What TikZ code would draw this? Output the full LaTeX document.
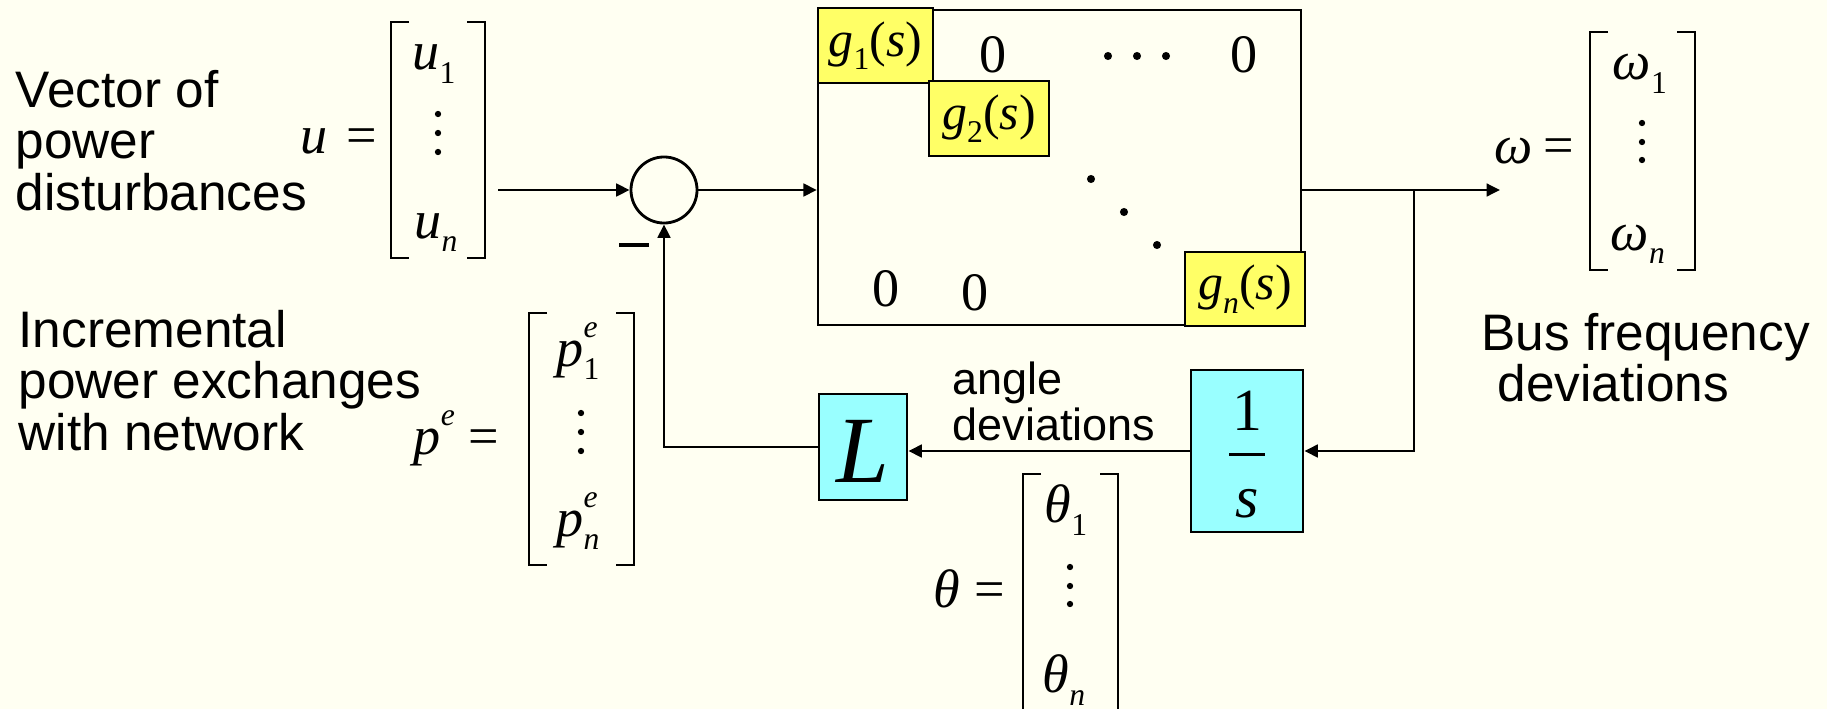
\documentclass[tikz,border=0pt]{standalone}
\usepackage{fontspec}
\setmainfont{Liberation Sans}
\newfontfamily\tms{Liberation Serif}
\usetikzlibrary{arrows.meta}
\definecolor{bg}{RGB}{255,255,242}
\definecolor{ybox}{RGB}{255,255,102}
\definecolor{cbox}{RGB}{153,255,255}
\newcommand\mi[1]{{\tms\itshape #1}}
\newcommand\mr[1]{{\tms #1}}
\newcommand\sbs[1]{\raisebox{-3.8pt}{\fontsize{9}{9}\selectfont #1}}
\newcommand\sps[1]{\raisebox{8pt}{\fontsize{9}{9}\selectfont #1}}
\newcommand\brk[4]{%
  \draw[brk] (#1+18,#3) -- (#1,#3) -- (#1,#4) -- (#1+18,#4);
  \draw[brk] (#2-18,#3) -- (#2,#3) -- (#2,#4) -- (#2-18,#4);}
\newcommand\vdts[4]{%
  \fill (#1,#2) circle[radius=0.9pt];
  \fill (#1,#3) circle[radius=0.9pt];
  \fill (#1,#4) circle[radius=0.9pt];}
\tikzset{
  sans/.style={font=\fontsize{14.6}{17}\selectfont, inner sep=0, anchor=base west},
  smalltxt/.style={font=\fontsize{12.8}{15}\selectfont, inner sep=0, anchor=base west},
  mth/.style={font=\fontsize{15.4}{18}\selectfont, inner sep=0, anchor=base},
  mthw/.style={mth, anchor=base west},
  gbox/.style={draw, fill=ybox, line width=0.8pt, inner sep=0,
    minimum width=1.18cm, minimum height=0.75cm, font=\fontsize{14.2}{17}\selectfont},
  cbx/.style={draw, fill=cbox, line width=0.8pt, inner sep=0},
  conn/.style={line width=0.7pt},
  arr/.style={conn, -{Triangle[length=3.8pt,width=3.6pt]}},
  brk/.style={line width=0.7pt},
}
\begin{document}
\begin{tikzpicture}[x=0.01cm, y=-0.01cm]
\fill[bg] (0,0) rectangle (1827,709);
\useasboundingbox (0,0) rectangle (1827,709);

% left texts
\node[sans] (t1) at (15,107) {Vector of};
\node[sans] (t2) at (15,158) {power};
\node[sans] (t3) at (15,210) {disturbances};
\node[sans] (t4) at (18,347) {Incremental};
\node[sans] (t5) at (18,398) {power exchanges};
\node[sans] (t6) at (18,450) {with network};
\node[sans] (t7) at (1481,350) {Bus frequency};
\node[sans] (t8) at (1497,401) {deviations};
\node[smalltxt] (t9) at (952,394) {angle};
\node[smalltxt] (t10) at (952,440) {deviations};

% u vector
\node[mthw] (ueq) at (300,153) {\mi{u}\kern5.2pt\mr{=}};
\brk{391}{485}{22}{258}
\node[mth] (u1) at (434,70) {\mi{u}\sbs{\mr{1}}};
\vdts{438}{114}{133}{152}
\node[mth] (un) at (436,238) {\mi{u}\sbs{\mi{n}}};
\coordinate (uout) at (498,190);

% p^e vector
\node[mthw] (peq) at (413,454) {\mi{p}\sps{\mi{e}}\kern4pt\mr{=}};
\brk{529}{634}{313}{565}
\node[mth] (p1) at (578,366) {\mi{p}\rlap{\sps{\mi{e}}}\sbs{\mr{1}}};
\vdts{581}{413}{432}{451}
\node[mth] (pn) at (578,536) {\mi{p}\rlap{\sps{\mi{e}}}\sbs{\mi{n}}};

% omega vector
\node[mthw] (weq) at (1494,163) {\mi{ω}\kern3pt\mr{=}};
\brk{1590}{1695}{32}{270}
\node[mth] (w1) at (1640,80) {\mi{ω}\sbs{\mr{1}}};
\vdts{1642}{123}{142}{160}
\node[mth] (wn) at (1638,250) {\mi{ω}\sbs{\mi{n}}};

% theta vector
\node[mthw] (theq) at (933,607) {\mi{θ}\kern4pt\mr{=}};
\brk{1023}{1118}{474}{715}
\node[mth] (th1) at (1066,522) {\mi{θ}\sbs{\mr{1}}};
\vdts{1070}{567}{586}{604}
\node[mth] (thn) at (1064,692) {\mi{θ}\sbs{\mi{n}}};

% summing junction
\node[draw, circle, line width=0.8pt, minimum size=0.66cm, inner sep=0] (sum) at (664,190) {};
\node[inner sep=0] (minus) at (634,245) {\rule{8.3pt}{0.9pt}};

% big matrix box
\node[draw, line width=0.6pt, minimum width=4.83cm, minimum height=3.15cm, inner sep=0] (big) at (1059.5,167.5) {};
\node[gbox, minimum width=1.15cm] (g1) at (875.5,45.5) {\mi{g}\sbs{\mr{1}}\mr{(}\mi{s}\mr{)}};
\node[gbox, minimum width=1.2cm] (g2) at (989,118.5) {\mi{g}\sbs{\mr{2}}\mr{(}\mi{s}\mr{)}};
\node[gbox, minimum width=1.2cm, minimum height=0.74cm] (gn) at (1245,289) {\mi{g}\sbs{\mi{n}}\mr{(}\mi{s}\mr{)}};
\node[mth] (z1) at (993,72) {\mr{0}};
\node[mth] (z2) at (1244,72) {\mr{0}};
\node[mth] (z3) at (886,306) {\mr{0}};
\node[mth] (z4) at (975,310) {\mr{0}};
\foreach \xx in {1108,1137,1166} \fill (\xx,56) circle[radius=1.15pt];
\fill (1091,179) circle[radius=1.15pt];
\fill (1124,212) circle[radius=1.15pt];
\fill (1157,245) circle[radius=1.15pt];

% L and 1/s blocks
\node[cbx, minimum width=0.88cm, minimum height=1.06cm] (L) at (863,447) {};
\node[inner sep=0, font=\fontsize{27}{27}\selectfont] (Ltxt) at (863,451) {\mi{L}};
\node[cbx, minimum width=1.12cm, minimum height=1.62cm] (ones) at (1247,451) {};
\node[inner sep=0, anchor=base, font=\fontsize{17}{17}\selectfont] (one) at (1247,430) {\mr{1}};
\node[inner sep=0] (bar) at (1247,454) {\rule{10.2pt}{0.85pt}};
\node[inner sep=0, anchor=base, font=\fontsize{17}{17}\selectfont] (sden) at (1247,517) {\mi{s}};

% connectors
\coordinate (wout) at (1500,190);
\coordinate (br) at (1414,190);
\draw[arr] (uout) -- (sum.west);
\draw[arr] (sum.east) -- (sum.east -| big.west);
\draw[arr] (sum.east -| big.east) -- (wout);
\draw[arr] (br) |- (ones.east);
\draw[arr] (ones.west) -- (ones.west -| L.east);
\draw[arr] (L.west) -| (sum.south);
\end{tikzpicture}
\end{document}
